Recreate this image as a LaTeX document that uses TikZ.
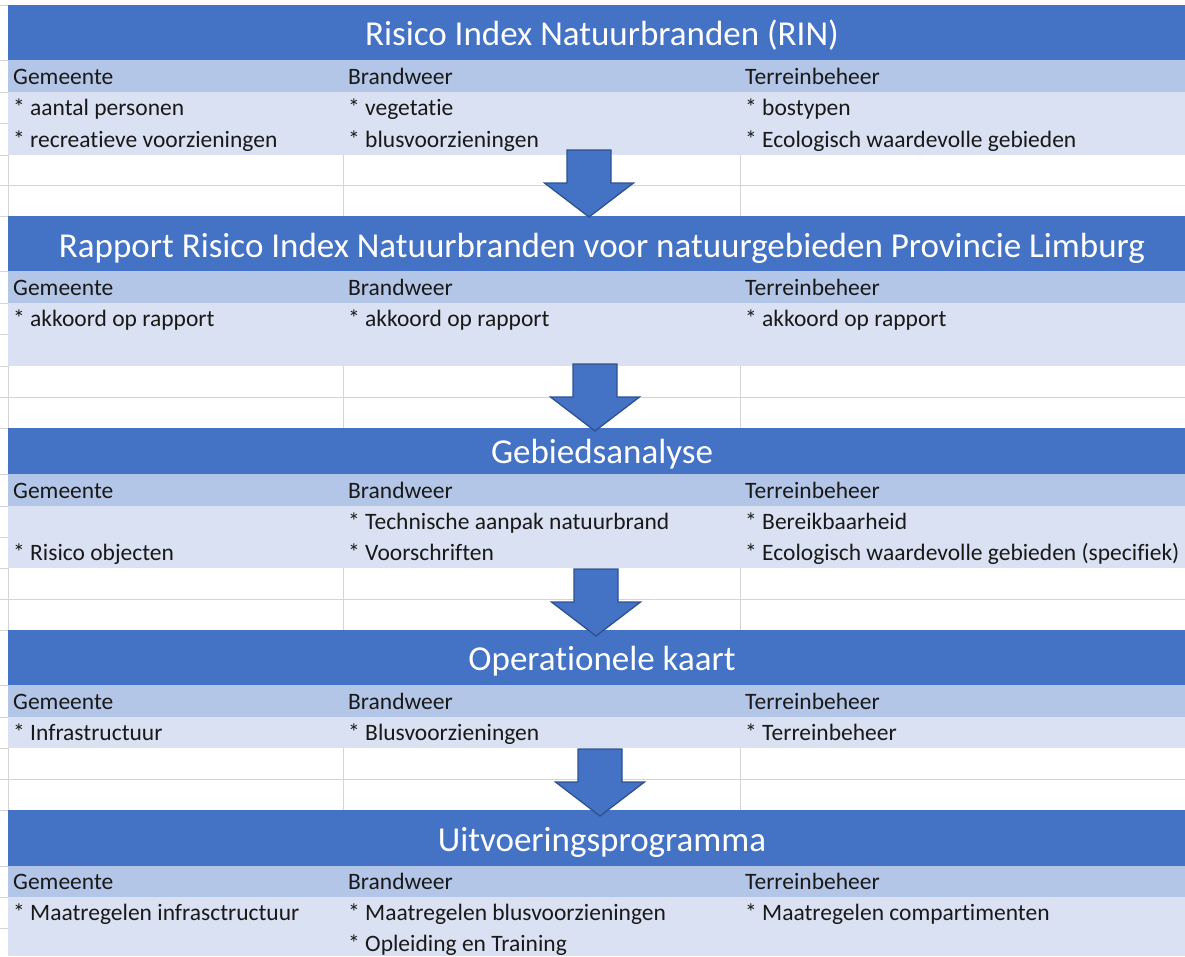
\documentclass[tikz,border=0pt]{standalone}
\usepackage{fontspec}
\setmainfont{Carlito}[Ligatures=NoCommon]
\usetikzlibrary{calc}
\definecolor{Band}{HTML}{4472C4}
\definecolor{Edge}{HTML}{2F528F}
\definecolor{HeadRow}{HTML}{B4C6E7}
\definecolor{DataRow}{HTML}{D9E1F2}
\definecolor{Grid}{HTML}{D4D4D4}
\tikzset{
  band/.style={font=\fontsize{35}{40}\selectfont, text=white, anchor=base, inner sep=0pt},
  cell/.style={font=\fontsize{23.5}{27}\selectfont, text=black!90, anchor=base west, inner sep=0pt},
  flow/.style={fill=Band, draw=Edge, line width=1.3pt, line join=miter},
  gridline/.style={draw=Grid, line width=1pt}
}
% block arrow between two bands: name, x of centre, top of shaft
\newcommand{\flowarrow}[3]{%
  \coordinate (#1) at (#2,#3);
  \draw[flow] (#1) ++(-22,0) -- ++(44,0) -- ++(0,33) -- ++(22.5,0)
    -- ++(-44.5,34) -- ++(-44.5,-34) -- ++(22.5,0) -- cycle;}

\begin{document}
\begin{tikzpicture}[x=1pt, y=-1pt]
  \useasboundingbox (0,0) rectangle (1185,956);
  \fill[white] (0,0) rectangle (1185,956);
  % Blue bands
  \foreach \a/\b in {5/60, 216/271, 428/474, 630/685, 810/866}
    \fill[Band] (8,\a) rectangle (1185,\b);
  % Column header rows
  \foreach \a/\b in {60/92, 271/303, 474/506, 685/717, 866/897}
    \fill[HeadRow] (8,\a) rectangle (1185,\b);
  % Data rows
  \foreach \a/\b in {92/155, 303/366, 506/568, 717/748, 897/956}
    \fill[DataRow] (8,\a) rectangle (1185,\b);
  % Empty rows with grid
  \foreach \a/\m/\b in {155/185/216, 366/397/428, 568/599/630, 748/779/810} {
    \draw[gridline] (8,\m) -- (1185,\m);
    \foreach \x in {8, 343, 740}
      \draw[gridline] (\x,\a) -- (\x,\b);
  }
  % Row ticks left of the table
  \foreach \y in {5, 60, 92, 123, 155, 185, 216, 271, 303, 334, 366, 397, 428, 474, 506, 537,
                  568, 599, 630, 685, 717, 748, 779, 810, 866, 897, 928}
    \draw[gridline] (0,\y) -- (8,\y);

  % Titles
  \node[band] (rin)      at (602,45)  {Risico Index Natuurbranden (RIN)};
  \node[band] (rapport)  at (602,257) {Rapport Risico Index Natuurbranden voor natuurgebieden Provincie Limburg};
  \node[band] (analyse)  at (602,463) {Gebiedsanalyse};
  \node[band] (kaart)    at (602,670) {Operationele kaart};
  \node[band] (programma) at (602,851) {Uitvoeringsprogramma};

  % Column headers
  \foreach \s/\y in {1/84, 2/295, 3/498, 4/709, 5/889} {
    \node[cell] (gem\s) at (13,\y)  {Gemeente};
    \node[cell] (brw\s) at (348,\y) {Brandweer};
    \node[cell] (trb\s) at (745,\y) {Terreinbeheer};
  }

  % RIN
  \node[cell] (gem1a) at (13,115)  {* aantal personen};
  \node[cell] (gem1b) at (13,147)  {* recreatieve voorzieningen};
  \node[cell] (brw1a) at (348,115) {* vegetatie};
  \node[cell] (brw1b) at (348,147) {* blusvoorzieningen};
  \node[cell] (trb1a) at (745,115) {* bostypen};
  \node[cell] (trb1b) at (745,147) {* Ecologisch waardevolle gebieden};
  % Rapport
  \node[cell] (gem2a) at (13,326)  {* akkoord op rapport};
  \node[cell] (brw2a) at (348,326) {* akkoord op rapport};
  \node[cell] (trb2a) at (745,326) {* akkoord op rapport};
  % Gebiedsanalyse
  \node[cell] (gem3b) at (13,560)  {* Risico objecten};
  \node[cell] (brw3a) at (348,529) {* Technische aanpak natuurbrand};
  \node[cell] (brw3b) at (348,560) {* Voorschriften};
  \node[cell] (trb3a) at (745,529) {* Bereikbaarheid};
  \node[cell] (trb3b) at (745,560) {* Ecologisch waardevolle gebieden (specifiek)};
  % Operationele kaart
  \node[cell] (gem4a) at (13,740)  {* Infrastructuur};
  \node[cell] (brw4a) at (348,740) {* Blusvoorzieningen};
  \node[cell] (trb4a) at (745,740) {* Terreinbeheer};
  % Uitvoeringsprogramma
  \node[cell] (gem5a) at (13,920)  {* Maatregelen infrasctructuur};
  \node[cell] (brw5a) at (348,920) {* Maatregelen blusvoorzieningen};
  \node[cell] (brw5b) at (348,951) {* Opleiding en Training};
  \node[cell] (trb5a) at (745,920) {* Maatregelen compartimenten};

  % Arrows between the steps
  \flowarrow{step1}{589}{150}
  \flowarrow{step2}{595}{364}
  \flowarrow{step3}{596}{569}
  \flowarrow{step4}{600}{749}
\end{tikzpicture}
\end{document}
